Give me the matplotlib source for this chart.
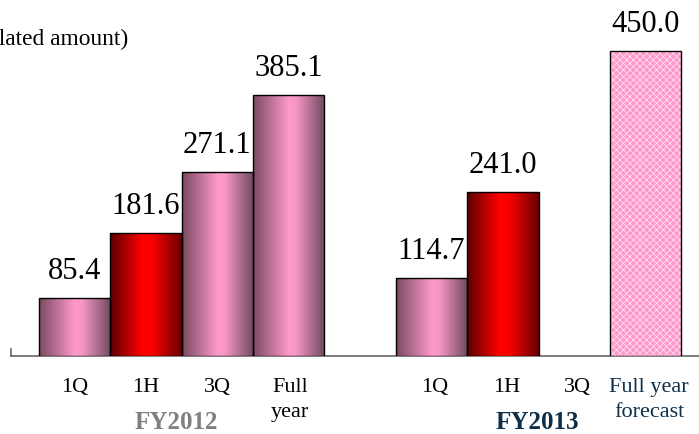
import numpy as np
import matplotlib.pyplot as plt
from matplotlib.colors import LinearSegmentedColormap

plt.rcParams['font.family'] = ['Liberation Serif', 'DejaVu Serif']
plt.rcParams['hatch.linewidth'] = 0.5

# Accumulated amounts
fy2012_labels = ['1Q', '1H', '3Q', 'Full\nyear']
fy2012_values = [85.4, 181.6, 271.1, 385.1]
fy2013_labels = ['1Q', '1H', '3Q', 'Full year\nforecast']
fy2013_values = [114.7, 241.0, None, 450.0]
bar_kinds_2012 = ['pink', 'red', 'pink', 'pink']
bar_kinds_2013 = ['pink', 'red', None, 'forecast']

pink_cmap = LinearSegmentedColormap.from_list(
    'pinkbar', [(0, '#7a4a60'), (0.5, '#ff99cc'), (0.6, '#f796c6'), (1, '#6f4a5e')])
red_cmap = LinearSegmentedColormap.from_list(
    'redbar', [(0, '#5a0000'), (0.45, '#ff0000'), (0.6, '#f50000'), (1, '#6a0000')])

fig = plt.figure(figsize=(6.99, 4.35), dpi=100)
ax = fig.add_axes([11 / 699, (435 - 356.5) / 435, 1 - 11 / 699, 356.5 / 435])

grad = np.linspace(0, 1, 256).reshape(1, -1)


def draw_bar(x, h, kind):
    x0, x1 = x - 0.5, x + 0.5
    if kind == 'forecast':
        ax.bar(x, h, width=1.0, color='#ff99cc', edgecolor='#ffe6f2', hatch='xxxxx', lw=0, zorder=2)
    else:
        cmap = pink_cmap if kind == 'pink' else red_cmap
        ax.imshow(grad, cmap=cmap, extent=(x0, x1, 0, h), aspect='auto', zorder=2,
                  interpolation='bilinear')
    ax.bar(x, h, width=1.0, facecolor='none', edgecolor='black', lw=1.0, zorder=3)
    ax.text(x, h + 19, f'{h:.1f}', ha='center', va='bottom', fontsize=22, zorder=4)


pos_2012 = [0, 1, 2, 3]
pos_2013 = [5, 6, 7, 8]
for p, v, k in zip(pos_2012, fy2012_values, bar_kinds_2012):
    draw_bar(p, v, k)
for p, v, k in zip(pos_2013, fy2013_values, bar_kinds_2013):
    if v is not None:
        draw_bar(p, v, k)

ax.set_xlim(-0.889, 8.746)
ax.set_ylim(0, 526.6)

for s in ['top', 'right', 'left']:
    ax.spines[s].set_visible(False)
ax.spines['bottom'].set_color('#666666')
ax.spines['bottom'].set_linewidth(1.2)
ax.spines['bottom'].set_zorder(1)
ax.set_yticks([])
ax.set_xticks([])
ax.plot([-0.889, -0.889], [0, 10], color='#666666', lw=1.2, clip_on=False)

# category labels
for p, lab in zip(pos_2012, fy2012_labels):
    ax.text(p + (0.02 if p == 3 else 0), -32, lab, ha='center', va='top', fontsize=16,
            linespacing=1.45)
for p, lab in zip(pos_2013, fy2013_labels):
    col = '#0d2f4a' if 'forecast' in lab else 'black'
    ax.text(p + 0.05, -32, lab, ha='center', va='top', fontsize=16,
            color=col, linespacing=1.45)

ax.text(1.43, -97, 'FY2012', ha='center', va='center', fontsize=18,
        fontweight='bold', color='#808080')
ax.text(6.48, -97, 'FY2013', ha='center', va='center', fontsize=18,
        fontweight='bold', color='#0d2f4a')

fig.text(128 / 699, 1 - 39 / 435, '(Accumulated amount)', ha='right', va='center',
         fontsize=16.8)

fig.savefig('out.png', dpi=100)
